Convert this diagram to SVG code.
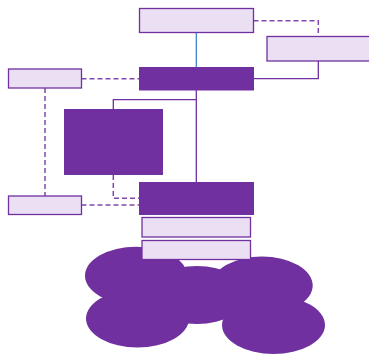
<svg xmlns="http://www.w3.org/2000/svg" width="369" height="354" viewBox="0 0 369 354">
  <style>
    .light { fill: #EBDFF4; stroke: #7030A0; stroke-width: 1.3; }
    .dark { fill: #7030A0; stroke: none; }
    .blob { fill: #7030A0; }
    .link { fill: none; stroke: #7030A0; stroke-width: 1.3; }
    .dash { stroke-dasharray: 5 3; stroke: #8048B0; stroke-width: 1.5; }
    .blue { stroke: #3F86D0; }
  </style>
  <rect width="369" height="354" fill="#FFFFFF"/>

  <!-- connectors -->
  <g id="connectors">
    <path class="link blue" d="M196.3 32.7 V67"/>
    <path class="link dash" d="M253.5 20.7 H318.3 V36.5"/>
    <path class="link" d="M254 78.7 H318.3 V61"/>
    <path class="link dash" d="M81.5 78.7 H139"/>
    <path class="link" d="M196.3 90 V182"/>
    <path class="link" d="M196.3 99.7 H113.3 V109"/>
    <path class="link dash" d="M45 88 V196"/>
    <path class="link dash" d="M113.3 175 V198.3 H139"/>
    <path class="link dash" d="M81.5 205 H139"/>
  </g>

  <!-- cloud made of overlapping ellipses, behind the layer boxes -->
  <g id="cloud">
    <ellipse class="blob" cx="136" cy="275.7" rx="51" ry="29"/>
    <ellipse class="blob" cx="137.5" cy="318.5" rx="51.5" ry="29"/>
    <ellipse class="blob" cx="197" cy="295" rx="50" ry="29"/>
    <ellipse class="blob" cx="262" cy="285.5" rx="50.7" ry="29"/>
    <ellipse class="blob" cx="273.5" cy="325" rx="51.5" ry="29"/>
  </g>

  <g id="top-box"><rect class="light" x="139.5" y="8.5" width="114" height="24"/></g>
  <g id="right-box"><rect class="light" x="267" y="36.5" width="106" height="24.5"/></g>
  <g id="hub"><rect class="dark" x="139" y="67" width="115" height="23.5"/></g>
  <g id="left-box"><rect class="light" x="8.5" y="69" width="73" height="19"/></g>
  <g id="square"><rect class="dark" x="64" y="109" width="99" height="66"/></g>
  <g id="base"><rect class="dark" x="139" y="182" width="115" height="33"/></g>
  <g id="lower-left-box"><rect class="light" x="8.5" y="196" width="73" height="18.5"/></g>
  <g id="layer-1"><rect class="light" x="142" y="217.5" width="108.5" height="19.5"/></g>
  <g id="layer-2"><rect class="light" x="142" y="240.5" width="108.5" height="19"/></g>
</svg>
